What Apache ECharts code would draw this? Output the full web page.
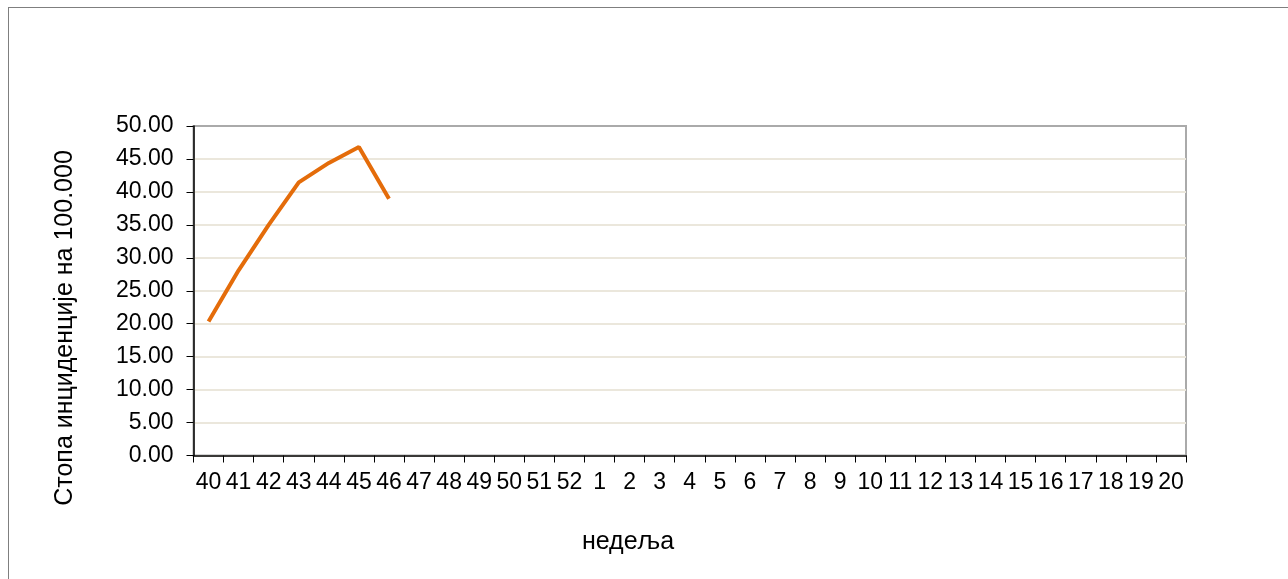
<!DOCTYPE html>
<html>
<head>
<meta charset="utf-8">
<script src="https://cdn.jsdelivr.net/npm/echarts@6/dist/echarts.min.js"></script>
<style>
html,body{margin:0;padding:0;background:#fff;}
#frame{position:absolute;left:8px;top:7px;width:1400px;height:700px;border:1px solid #7f7f7f;box-sizing:border-box;}
#chart{position:absolute;left:0;top:0;width:1288px;height:579px;}
</style>
</head>
<body>
<div id="frame"></div>
<div id="chart"></div>
<script>
const weeks = ['40','41','42','43','44','45','46','47','48','49','50','51','52','1','2','3','4','5','6','7','8','9','10','11','12','13','14','15','16','17','18','19','20'];
const incidence = [20.35, 28.1, 35.0, 41.45, 44.4, 46.8, 38.95];
const yTicks = {min: 0, max: 50, interval: 5};
const yTitle = 'Стопа инциденције на 100.000';
const xTitle = 'недеља';

const chart = echarts.init(document.getElementById('chart'), null, {renderer: 'canvas'});
const font = 'Liberation Sans, Arial, sans-serif';
const gridColors = [];
for (let i = 0; i < 10; i++) gridColors.push('#ebe7dc');
gridColors.push('#aaaaaa');
chart.setOption({
  animation: false,
  backgroundColor: 'transparent',
  grid: {left: 193.5, top: 126, right: 102, bottom: 123.5, show: true, borderColor: '#aaaaaa', borderWidth: 2, backgroundColor: '#ffffff'},
  xAxis: {
    type: 'category', data: weeks, boundaryGap: true,
    axisLine: {lineStyle: {color: '#000', width: 1.5}},
    axisTick: {show: true, alignWithLabel: false, length: 7, lineStyle: {color: '#000'}},
    axisLabel: {interval: 0, color: '#000', fontFamily: font, fontSize: 23, margin: 16},
    splitLine: {show: false}
  },
  yAxis: {
    type: 'value', min: yTicks.min, max: yTicks.max, interval: yTicks.interval,
    axisLine: {show: true, lineStyle: {color: '#000', width: 1.5}},
    axisTick: {show: true, length: 7, lineStyle: {color: '#000'}},
    axisLabel: {color: '#000', fontFamily: font, fontSize: 23, margin: 20, formatter: v => v.toFixed(2)},
    splitLine: {show: true, lineStyle: {color: gridColors, width: 2}}
  },
  graphic: [
    {type: 'text', x: 65, y: 328, rotation: Math.PI/2, style: {text: yTitle, fill: '#000', font: '25px ' + font, textAlign: 'center', textVerticalAlign: 'middle'}},
    {type: 'text', x: 628, y: 542, style: {text: xTitle, fill: '#000', font: '25px ' + font, textAlign: 'center', textVerticalAlign: 'middle'}}
  ],
  series: [{
    type: 'line', data: incidence, symbol: 'none',
    lineStyle: {color: '#e46c0a', width: 4}
  }]
});
</script>
</body>
</html>
